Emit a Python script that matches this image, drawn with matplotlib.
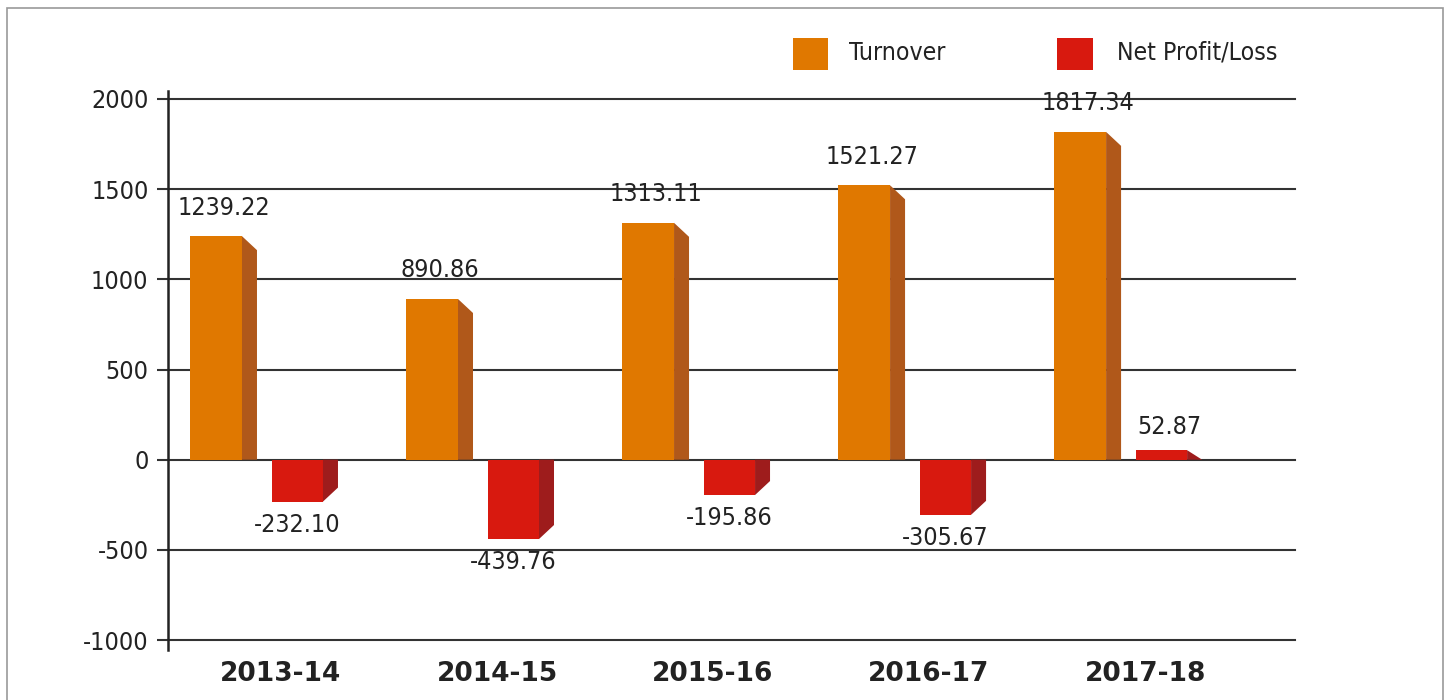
import matplotlib
matplotlib.use("Agg")
import matplotlib.pyplot as plt
from matplotlib.patches import Polygon, Rectangle

categories = ["2013-14", "2014-15", "2015-16", "2016-17", "2017-18"]
turnover = [1239.22, 890.86, 1313.11, 1521.27, 1817.34]
net_profit = [-232.10, -439.76, -195.86, -305.67, 52.87]
turnover_labels = ["1239.22", "890.86", "1313.11", "1521.27", "1817.34"]
profit_labels = ["-232.10", "-439.76", "-195.86", "-305.67", "52.87"]
yticks = [-1000, -500, 0, 500, 1000, 1500, 2000]
legend_names = ["Turnover", "Net Profit/Loss"]

ORANGE = "#E07800"
ORANGE_SIDE = "#B0581A"
RED = "#D8190F"
RED_SIDE = "#9E1C1C"
TEXT = "#222222"

FONT = dict(family="DejaVu Sans", stretch="condensed")

W, H = 1451, 700
fig = plt.figure(figsize=(W / 100, H / 100), dpi=100)
ax = fig.add_axes([168 / W, 1 - 650 / H, (1295 - 168) / W, (650 - 91) / H])
XMIN, XMAX = -0.523, 4.694
ax.set_xlim(XMIN, XMAX)
ax.set_ylim(-1055, 2044)

# pixel conversions (approximate)
px_x = (XMAX - XMIN) / (1295 - 168)
px_y = (2044 + 1055) / (650 - 91)
dx = 15 * px_x
dy = 14 * px_y

for y in yticks:
    ax.plot([XMIN, XMAX], [y, y], color="#333333", lw=1.5, zorder=1, clip_on=False)

def bar3d(x0, x1, v, front, side):
    ax.add_patch(Rectangle((x0, 0), x1 - x0, v, facecolor=front, edgecolor="none", zorder=3))
    if v >= 0:
        pts = [(x1, v), (x1 + dx, max(v - dy, 0)), (x1 + dx, 0), (x1, 0)]
    else:
        pts = [(x1, 0), (x1 + dx, 0), (x1 + dx, min(v + dy, 0)), (x1, v)]
    ax.add_patch(Polygon(pts, closed=True, facecolor=side, edgecolor="none", zorder=3))

for i in range(len(categories)):
    # turnover
    tx0, tx1 = i - 91 * px_x, i - 39 * px_x
    bar3d(tx0, tx1, turnover[i], ORANGE, ORANGE_SIDE)
    ax.annotate(turnover_labels[i], ((tx0 + tx1 + dx) / 2, turnover[i]), xytext=(0, 12),
                textcoords="offset points", ha="center", va="bottom", fontsize=18,
                color=TEXT, zorder=5, **FONT)
    # net profit
    rx0, rx1 = i - 9 * px_x, i + 42 * px_x
    v = net_profit[i]
    bar3d(rx0, rx1, v, RED, RED_SIDE)
    if v >= 0:
        ax.annotate(profit_labels[i], ((rx0 + rx1 + dx) / 2, v), xytext=(0, 8),
                    textcoords="offset points", ha="center", va="bottom", fontsize=18,
                    color=TEXT, zorder=5, **FONT)
    else:
        ax.annotate(profit_labels[i], ((rx0 + rx1) / 2, v), xytext=(0, -8),
                    textcoords="offset points", ha="center", va="top", fontsize=18,
                    color=TEXT, zorder=5, **FONT)

for s in ["top", "right", "bottom"]:
    ax.spines[s].set_visible(False)
ax.spines["left"].set_color("#222222")
ax.spines["left"].set_linewidth(1.8)
ax.set_yticks(yticks)
ax.set_yticklabels([str(t) for t in yticks], fontsize=18, color=TEXT, **FONT)
ax.tick_params(axis="y", direction="out", length=8, width=1.5, color="#333333", pad=6)
ax.set_xticks(range(len(categories)))
ax.set_xticklabels(categories, fontsize=19, fontweight="bold", color=TEXT, family="DejaVu Sans")
ax.tick_params(axis="x", length=0, pad=8)

# legend
fig.patches.append(Rectangle((793 / W, 1 - 70 / H), 35 / W, 32 / H, transform=fig.transFigure,
                             facecolor=ORANGE, edgecolor="none"))
fig.text(849 / W, 1 - 53 / H, legend_names[0], fontsize=17.8, color=TEXT, va="center", ha="left", **FONT)
fig.patches.append(Rectangle((1057 / W, 1 - 70 / H), 36 / W, 32 / H, transform=fig.transFigure,
                             facecolor=RED, edgecolor="none"))
fig.text(1117 / W, 1 - 53 / H, legend_names[1], fontsize=17.8, color=TEXT, va="center", ha="left", **FONT)

# outer border
fig.patches.append(Rectangle((7 / W, -0.05), (1443 - 7) / W, 1 - 8 / H + 0.05, transform=fig.transFigure,
                             facecolor="none", edgecolor="#999999", lw=1.2))

fig.savefig("out.png", dpi=100)
